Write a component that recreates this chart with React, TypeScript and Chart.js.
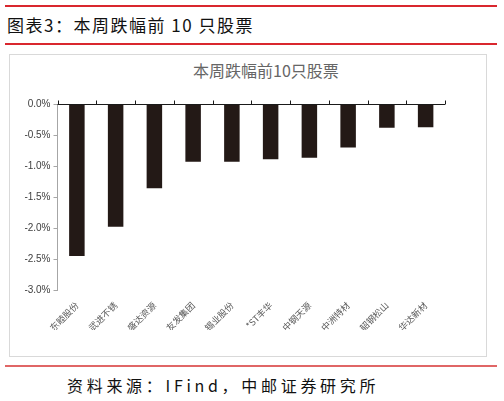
import React, { useEffect, useRef } from 'react'
import Chart from 'chart.js/auto'

// 本周跌幅前10只股票 (%)
const stocks = ['东睦股份', '武进不锈', '盛达资源', '友发集团', '锡业股份', '*ST丰华', '中钢天源', '中洲特材', '韶钢松山', '华达新材']
const changes = [-2.45, -1.98, -1.36, -0.93, -0.93, -0.89, -0.865, -0.7, -0.385, -0.375]
const yMin = -3
const yMax = 0
const yStep = 0.5

const barColor = '#231916'
const red = '#d9272e'

// zero line with small upward tick marks between categories
const zeroLinePlugin = {
    id: 'zeroLine',
    afterDatasetsDraw(chart: any) {
        const { ctx, chartArea, scales } = chart
        const x = scales.x
        const y0 = Math.round(scales.y.getPixelForValue(0)) + 0.5
        ctx.save()
        ctx.strokeStyle = '#1a1a1a'
        ctx.lineWidth = 1
        ctx.beginPath()
        ctx.moveTo(chartArea.left, y0)
        ctx.lineTo(chartArea.right, y0)
        const n = stocks.length
        for (let i = 0; i <= n; i++) {
            let px
            if (i === 0) px = chartArea.left
            else if (i === n) px = chartArea.right
            else px = (x.getPixelForTick(i - 1) + x.getPixelForTick(i)) / 2
            px = Math.round(px) + 0.5
            ctx.moveTo(px, y0)
            ctx.lineTo(px, y0 - 4)
        }
        ctx.stroke()
        ctx.restore()
    }
}

const BarChart: React.FC = () => {
    const chartRef = useRef<HTMLCanvasElement>(null)
    const chartInstance = useRef<Chart | null>(null)

    useEffect(() => {
        document.body.style.margin = '0'
        if (!chartRef.current) return
        const ctx = chartRef.current.getContext('2d')
        if (!ctx) return
        if (chartInstance.current) chartInstance.current.destroy()

        chartInstance.current = new Chart(ctx, {
            type: 'bar',
            data: {
                labels: stocks,
                datasets: [{
                    data: changes,
                    backgroundColor: barColor,
                    borderWidth: 0,
                    barPercentage: 0.4,
                    categoryPercentage: 1
                }]
            },
            plugins: [zeroLinePlugin],
            options: {
                responsive: true,
                maintainAspectRatio: false,
                animation: false,
                layout: { padding: { left: 14.5, right: 41, top: 49, bottom: 26 } },
                plugins: {
                    legend: { display: false },
                    title: { display: false },
                    tooltip: { enabled: false }
                },
                scales: {
                    x: {
                        grid: { display: false },
                        border: { display: false },
                        ticks: {
                            minRotation: 45,
                            maxRotation: 45,
                            autoSkip: false,
                            padding: 2,
                            color: '#595959',
                            font: { family: '"Noto Sans CJK SC", sans-serif', size: 9 }
                        },
                        afterFit(scale: any) { scale.height = 40 }
                    },
                    y: {
                        min: yMin,
                        max: yMax,
                        grid: {
                            drawOnChartArea: false,
                            tickLength: 4,
                            tickColor: '#a6a6a6'
                        },
                        border: { display: true, color: '#a6a6a6' },
                        ticks: {
                            stepSize: yStep,
                            padding: 3,
                            color: '#404040',
                            font: { family: '"Liberation Sans", Arial, sans-serif', size: 10 },
                            callback: (v: any) => Number(v).toFixed(1) + '%'
                        },
                        afterFit(scale: any) { scale.width = 33 }
                    }
                }
            }
        })

        return () => {
            if (chartInstance.current) {
                chartInstance.current.destroy()
                chartInstance.current = null
            }
        }
    }, [])

    return <canvas ref={chartRef}></canvas>
}

export default function App() {
    return (
        <div style={{ position: 'relative', width: 504, height: 401, background: '#fff', overflow: 'hidden' }}>
            <div style={{ position: 'absolute', left: 5, top: 5, width: 492, height: 2, background: red }} />
            <div style={{
                position: 'absolute', left: 7, top: 16, lineHeight: '18px', fontSize: 17, fontWeight: 400,
                letterSpacing: 1.5, color: '#111', fontFamily: '"Noto Sans CJK SC", sans-serif', whiteSpace: 'nowrap'
            }}>图表3：本周跌幅前 10 只股票</div>
            <div style={{ position: 'absolute', left: 5, top: 43, width: 492, height: 1.5, background: red }} />

            <div style={{ position: 'absolute', left: 9, top: 54, width: 476, height: 301, border: '1px solid #d9d9d9' }}>
                <div style={{
                    position: 'absolute', left: 183, top: 7, fontSize: 16, lineHeight: '16px', color: '#666',
                    fontFamily: '"Noto Sans CJK SC", sans-serif', whiteSpace: 'nowrap'
                }}>本周跌幅前10只股票</div>
                <div style={{ position: 'absolute', left: 0, top: 0, width: 476, height: 301 }}>
                    <BarChart />
                </div>
            </div>

            <div style={{ position: 'absolute', left: 5, top: 365, width: 492, height: 1.5, background: '#e06666' }} />
            <div style={{
                position: 'absolute', left: 67, top: 376, lineHeight: '18px', fontSize: 16, letterSpacing: 3.7,
                color: '#111', fontFamily: '"Noto Sans CJK SC", sans-serif', whiteSpace: 'nowrap'
            }}>资料来源：IFind，中邮证券研究所</div>
        </div>
    )
}
